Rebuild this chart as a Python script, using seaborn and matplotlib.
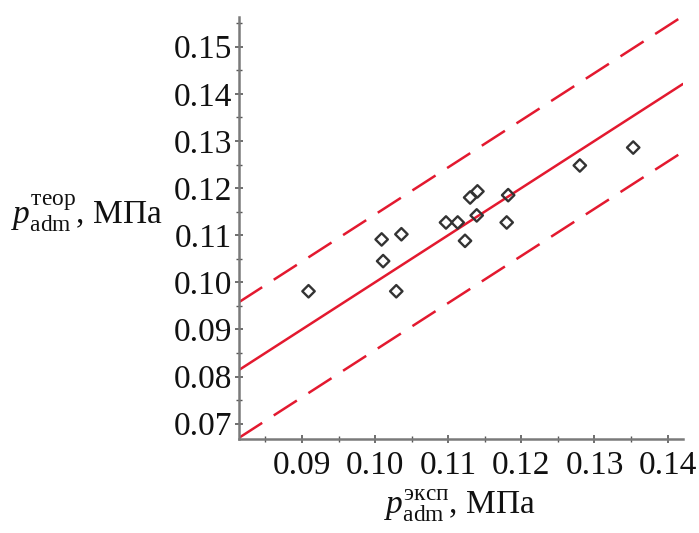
import numpy as np
import pandas as pd
import matplotlib
matplotlib.use("Agg")
import matplotlib.pyplot as plt
from matplotlib.ticker import MultipleLocator, FormatStrFormatter
import seaborn as sns

# Experimental vs. theoretical admissible pressure, MPa
p_exp = [0.0909, 0.1009, 0.1011, 0.1029, 0.1036, 0.1097, 0.1113, 0.1123,
         0.1130, 0.1140, 0.1139, 0.1182, 0.1180, 0.1280, 0.1353]
p_theor = [0.0981, 0.1091, 0.1045, 0.0981, 0.1102, 0.1127, 0.1127, 0.1088,
           0.1180, 0.1193, 0.1142, 0.1185, 0.1127, 0.1248, 0.1286]

# Line of perfect agreement and the tolerance band around it
x_range = [0.0814, 0.1421]
band = 0.0144

x_ticks = [0.09, 0.10, 0.11, 0.12, 0.13, 0.14]
y_ticks = [0.07, 0.08, 0.09, 0.10, 0.11, 0.12, 0.13, 0.14, 0.15]

sns.set_theme(style="white")
plt.rcParams["font.family"] = ["Liberation Serif", "DejaVu Serif"]
plt.rcParams["mathtext.fontset"] = "custom"
plt.rcParams["mathtext.rm"] = "Liberation Serif"
plt.rcParams["mathtext.it"] = "Liberation Serif:italic"

fig = plt.figure(figsize=(6.99, 5.33), dpi=100)
ax = fig.add_axes([0.342, 0.176, 0.635, 0.792])

red = "#e3192f"
dash = (0, (11, 5.5))
lines = pd.DataFrame({
    "x": x_range,
    "ideal": x_range,
    "upper": [v + band for v in x_range],
    "lower": [v - band for v in x_range],
})
sns.lineplot(data=lines, x="x", y="ideal", color=red, lw=1.8, ax=ax)
sns.lineplot(data=lines, x="x", y="upper", color=red, lw=1.8, ax=ax,
             dashes=False, linestyle=dash)
sns.lineplot(data=lines, x="x", y="lower", color=red, lw=1.8, ax=ax,
             dashes=False, linestyle=dash)

pts = pd.DataFrame({"exp": p_exp, "theor": p_theor})
sns.scatterplot(data=pts, x="exp", y="theor", marker="D", s=40,
                facecolor="none", edgecolor="#333333", linewidth=1.7,
                ax=ax, zorder=5)

ax.set_xlim(0.0814, 0.1421)
ax.set_ylim(0.0667, 0.1563)

ax.set_xticks(x_ticks)
ax.set_yticks(y_ticks)
ax.xaxis.set_major_formatter(FormatStrFormatter("%.2f"))
ax.yaxis.set_major_formatter(FormatStrFormatter("%.2f"))
ax.xaxis.set_minor_locator(MultipleLocator(0.005))
ax.yaxis.set_minor_locator(MultipleLocator(0.005))

for side in ("top", "right"):
    ax.spines[side].set_visible(False)
for side in ("left", "bottom"):
    ax.spines[side].set_color("#7a7a7a")
    ax.spines[side].set_linewidth(1.8)

ax.tick_params(which="major", direction="inout", length=6, width=1.2,
               color="#555555", labelsize=24, labelcolor="#111111")
ax.tick_params(which="minor", direction="inout", length=4, width=1.0,
               color="#555555")
ax.tick_params(axis="x", which="major", pad=5)
ax.tick_params(axis="y", which="major", pad=2)
ax.tick_params(bottom=True, left=True, which="both")

ax.set_xlabel("")
ax.set_ylabel("")
fig.text(0.658, 0.016, r"$p_{\mathrm{adm}}^{\mathrm{эксп}}$, МПа",
         ha="center", va="bottom", fontsize=24, color="#111111")
fig.text(0.016, 0.60, r"$p_{\mathrm{adm}}^{\mathrm{теор}}$, МПа",
         ha="left", va="center", fontsize=24, color="#111111")

fig.savefig("out.png", dpi=100, facecolor="white")
